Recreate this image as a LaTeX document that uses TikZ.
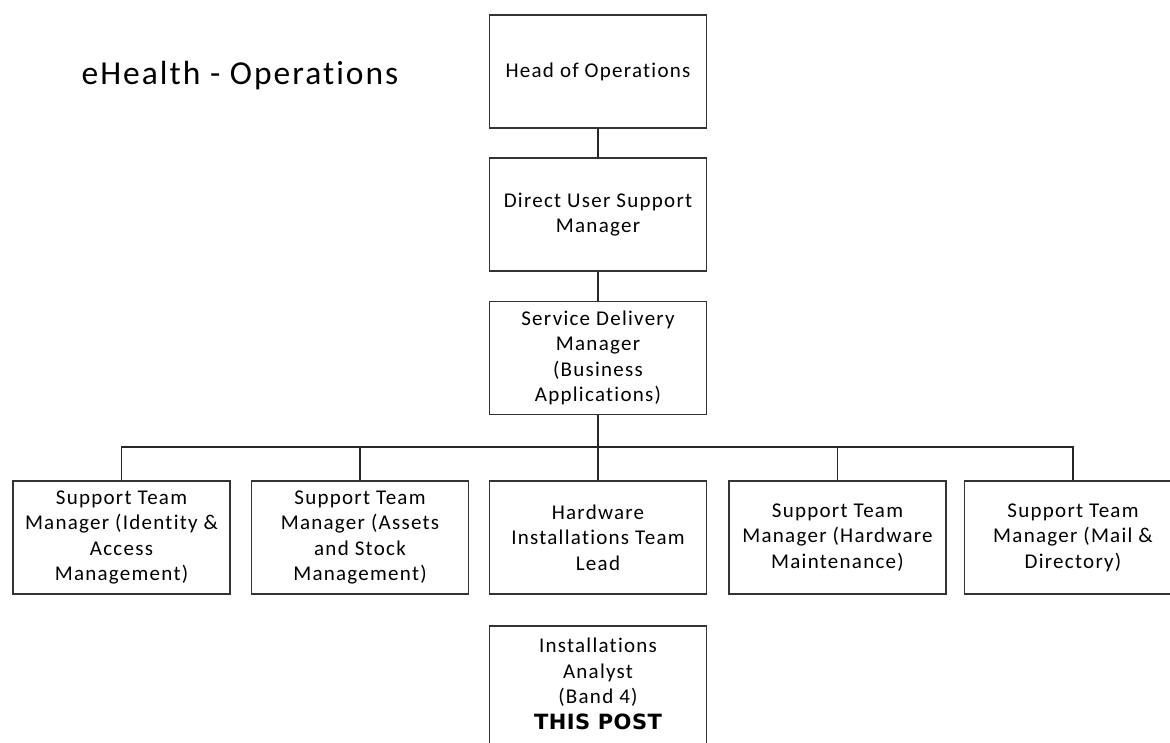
\documentclass[tikz,border=0pt]{standalone}
\usepackage{fontspec}
\setmainfont{Carlito}[LetterSpace=6.0, Ligatures=NoCommon]
\newfontfamily\postfont{DejaVu Sans}[LetterSpace=2.0]
\tikzset{
	stelle/.style={draw=black!80, line width=1.6pt, minimum width=217pt,
	minimum height=113pt, inner sep=0pt, align=center,
	font=\fontsize{21}{25.5}\selectfont},
	linie/.style={draw=black!85, line width=1.3pt}
}
\begin{document}
\begin{tikzpicture}[x=1pt, y=-1pt]
	\path[use as bounding box, clip] (0,0) rectangle (1170,742);
	\fill[white] (0,0) rectangle (1170,742);
	% Titel
	\node[anchor=base, font=\fontsize{33.5}{40}\selectfont] (titel) at (240,84)
	{eHealth - Operations};
	% obere Stellen
	\node[stelle] (head) at (598,71.5) {Head of Operations};
	\node[stelle] (direct) at (598,214.5) {Direct User Support\\Manager};
	\node[stelle] (service) at (598,358) {Service Delivery\\Manager\\(Business\\Applications)};
	% Teamleitungen
	\node[stelle] (identity) at (121.5,537.5) {Support Team\\Manager (Identity \&\\Access\\Management)};
	\node[stelle] (assets) at (360,537.5) {Support Team\\Manager (Assets\\and Stock\\Management)};
	\node[stelle] (hardware) at (598,537.5) {Hardware\\Installations Team\\Lead};
	\node[stelle] (maint) at (837.5,537.5) {Support Team\\Manager (Hardware\\Maintenance)};
	\node[stelle] (mail) at (1073,537.5) {Support Team\\Manager (Mail \&\\Directory)};
	% diese Stelle
	\draw[draw=black!80, line width=1.6pt] (489.5,626) rectangle (706.5,780);
	\node[align=center, font=\fontsize{21}{25.5}\selectfont] (analyst) at (598,684)
	{Installations\\Analyst\\(Band 4)\\{\postfont\bfseries\fontsize{21}{26}\selectfont THIS POST}};
	% Verbindungen
	\coordinate (bus) at (598,447);
	\draw[linie] (head) -- (direct);
	\draw[linie] (direct) -- (service);
	\draw[linie] (service) -- (hardware);
	\draw[linie] (identity.north) |- (bus) -| (mail.north);
	\foreach \n in {assets,maint}
		\draw[linie] (\n.north) -- (\n.north |- bus);
\end{tikzpicture}
\end{document}
